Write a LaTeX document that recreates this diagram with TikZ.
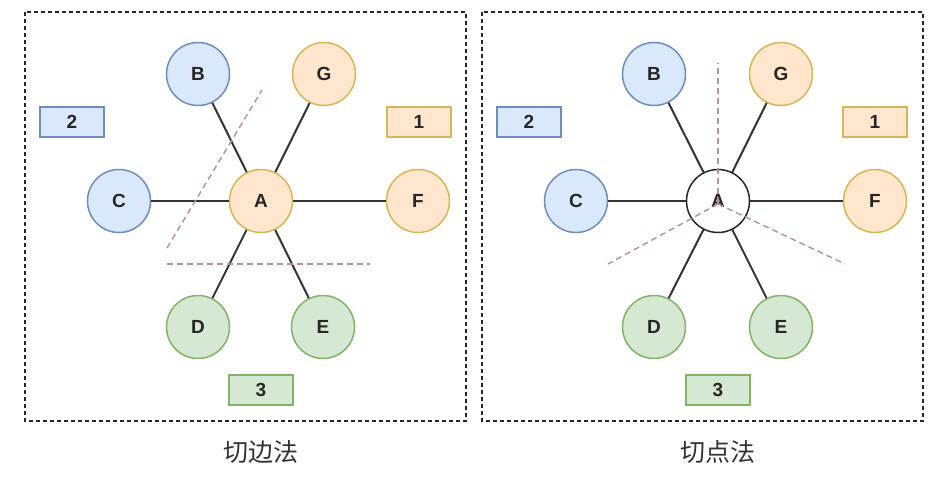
\documentclass[tikz,border=0pt]{standalone}
\usepackage{fontspec}
\setmainfont{Liberation Sans}
\newfontfamily\cjk{Noto Sans CJK SC}
\usepackage{xcolor}
\usetikzlibrary{calc}
\definecolor{bluefill}{HTML}{DAE8FC}
\definecolor{bluedraw}{HTML}{6C8EBF}
\definecolor{orangefill}{HTML}{FFE6CC}
\definecolor{orangedraw}{HTML}{D6B656}
\definecolor{greenfill}{HTML}{D5E8D4}
\definecolor{greendraw}{HTML}{82B366}
\definecolor{cutcolor}{HTML}{B98CA0}
\tikzset{
vertex/.style={
circle,
draw,
line width=0.75pt,
minimum size=31.5pt,
inner sep=0pt,
font=\bfseries\fontsize{9.5}{10}\selectfont,
text=black!85
},
bluev/.style={vertex,fill=bluefill,draw=bluedraw},
orangev/.style={vertex,fill=orangefill,draw=orangedraw},
greenv/.style={vertex,fill=greenfill,draw=greendraw},
whitev/.style={vertex,fill=white,draw=black!85},
tag/.style={
draw,
line width=0.75pt,
minimum width=32pt,
minimum height=15pt,
inner sep=0pt,
font=\bfseries\fontsize{9.5}{10}\selectfont,
text=black!85
},
edge/.style={
line width=1pt,
draw=black!80
},
cut/.style={
line width=0.7pt,
draw=cutcolor,
dash pattern=on 3pt off 2pt
},
frame/.style={
line width=0.65pt,
draw=black!85,
dash pattern=on 2pt off 1.5pt
},
caption/.style={
font=\cjk\fontsize{12.5}{14}\selectfont,
text=black!80
}
}

\begin{document}
\begin{tikzpicture}[x=0.5pt,y=-0.5pt]
\useasboundingbox (0,0) rectangle (949,482);

% left panel: cut along edges
\begin{scope}[shift={(261,201)}]
\draw[frame] (-236,-189) rectangle (205,220);
\node[orangev](a1) at (0,0){A};
\node[bluev](b1) at (-63,-127){B};
\node[orangev](g1) at (63,-127){G};
\node[bluev](c1) at (-142,0){C};
\node[orangev](f1) at (157,0){F};
\node[greenv](d1) at (-63,126){D};
\node[greenv](e1) at (62,126){E};
\node[tag,fill=bluefill,draw=bluedraw](t2a) at (-189,-79){2};
\node[tag,fill=orangefill,draw=orangedraw](t1a) at (158,-79){1};
\node[tag,fill=greenfill,draw=greendraw](t3a) at (0,189){3};
\node[caption](cap1) at (0,251){切边法};

\foreach \x in {b1,g1,c1,f1,d1,e1}
\draw[edge](a1)--(\x);

\coordinate (p1) at (-94,47);
\coordinate (p2) at (1,-111);
\coordinate (p3) at (-94,63);
\coordinate (p4) at (109,63);
\draw[cut](p1)--(p2);
\draw[cut](p3)--(p4);
\end{scope}

% right panel: cut through the vertex
\begin{scope}[shift={(718,201)}]
\draw[frame] (-236,-189) rectangle (205,220);
\node[bluev](b2) at (-64,-127){B};
\node[orangev](g2) at (63,-127){G};
\node[bluev](c2) at (-142,0){C};
\node[orangev](f2) at (157,0){F};
\node[greenv](d2) at (-64,126){D};
\node[greenv](e2) at (63,126){E};
\node[whitev](a2) at (0,0){A};
\node[tag,fill=bluefill,draw=bluedraw](t2b) at (-189,-79){2};
\node[tag,fill=orangefill,draw=orangedraw](t1b) at (157,-79){1};
\node[tag,fill=greenfill,draw=greendraw](t3b) at (0,189){3};
\node[caption](cap2) at (0,251){切点法};

\foreach \x in {b2,g2,c2,f2,d2,e2}
\draw[edge](a2)--(\x);

\coordinate (o) at (0,3);
\coordinate (q1) at (0,-138);
\coordinate (q2) at (-110,63);
\coordinate (q3) at (127,63);
\foreach \x in {q1,q2,q3}
\draw[cut](o)--(\x);
\end{scope}
\end{tikzpicture}
\end{document}
